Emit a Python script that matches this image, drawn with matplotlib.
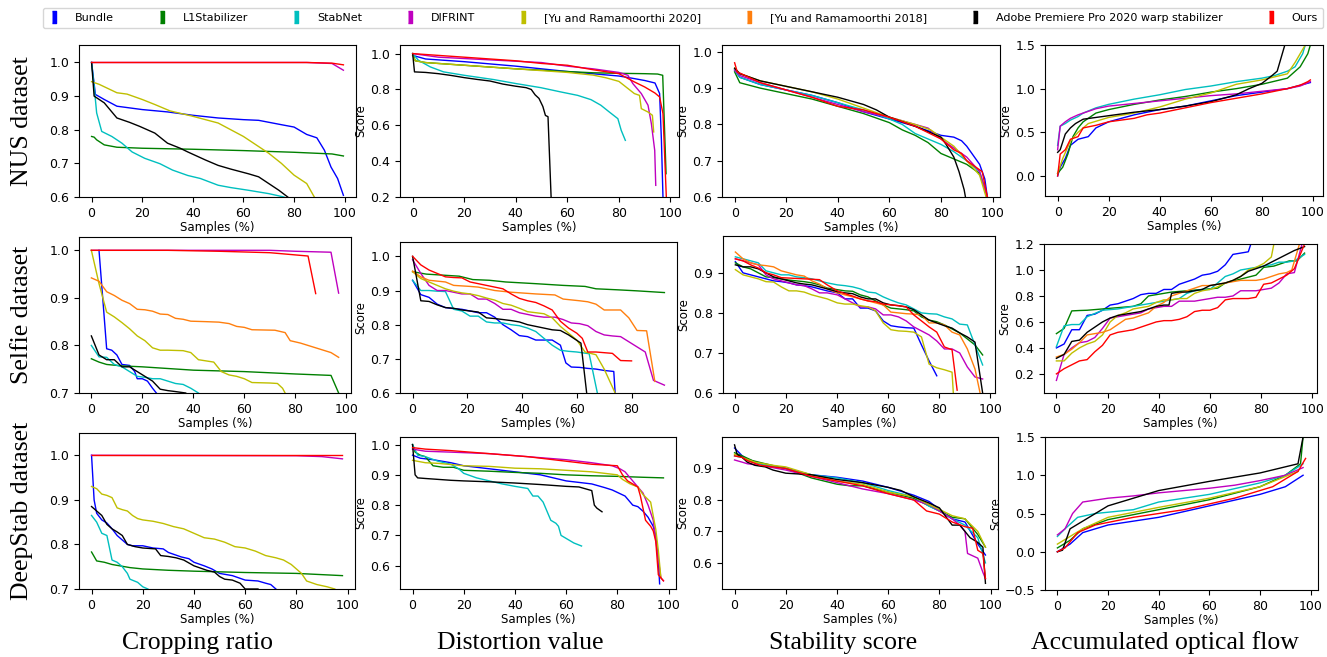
import matplotlib
matplotlib.use('Agg')
import matplotlib.pyplot as plt
from matplotlib.lines import Line2D

# methods / colours
methods = ['Bundle', 'L1Stabilizer', 'StabNet', 'DIFRINT', '[Yu and Ramamoorthi 2020]',
           '[Yu and Ramamoorthi 2018]', 'Adobe Premiere Pro 2020 warp stabilizer', 'Ours']
colors = ['b', 'g', 'c', 'm', 'y', '#ff7f0e', 'k', 'r']

row_labels = ['NUS dataset', 'Selfie dataset', 'DeepStab dataset']
col_labels = ['Cropping ratio', 'Distortion value', 'Stability score', 'Accumulated optical flow']

# ---------------- NUS ----------------
nus_crop = {
    'Bundle': ([0, 1.5, 5, 10, 20, 30, 40, 50, 60, 66, 75, 80, 85, 89, 92, 94.6, 97.2, 99.5],
               [1.0, 0.905, 0.89, 0.87, 0.86, 0.853, 0.843, 0.835, 0.83, 0.828, 0.815, 0.808, 0.786, 0.776, 0.739, 0.689, 0.655, 0.605]),
    'L1Stabilizer': ([0, 1, 2, 5, 10, 20, 40, 60, 80, 95, 99.5],
                     [0.78, 0.778, 0.77, 0.755, 0.748, 0.745, 0.742, 0.738, 0.733, 0.728, 0.722]),
    'StabNet': ([0, 1, 2, 4, 8, 12, 16, 21, 27, 32, 38, 43, 50, 55, 62, 70, 76],
                [1.0, 0.93, 0.85, 0.795, 0.78, 0.76, 0.734, 0.715, 0.699, 0.68, 0.664, 0.655, 0.635, 0.628, 0.62, 0.61, 0.6]),
    'DIFRINT': ([0, 50, 85, 95, 99.5], [1.0, 1.0, 1.0, 0.997, 0.977]),
    '[Yu and Ramamoorthi 2020]': ([0, 3, 10, 14, 20, 25, 31, 40, 50, 55, 60, 65, 70, 75, 80, 85, 88],
                                  [0.943, 0.935, 0.91, 0.906, 0.89, 0.875, 0.856, 0.84, 0.82, 0.8, 0.78, 0.755, 0.73, 0.7, 0.665, 0.64, 0.6]),
    'Adobe Premiere Pro 2020 warp stabilizer': ([0, 1, 5, 10, 15, 19, 25, 30, 35, 38, 45, 50, 55, 62, 66, 70, 74, 77.5],
                                                [1.0, 0.9, 0.88, 0.835, 0.822, 0.81, 0.79, 0.76, 0.745, 0.734, 0.71, 0.694, 0.683, 0.669, 0.66, 0.64, 0.62, 0.6]),
    'Ours': ([0, 50, 85, 95, 99.5], [1.0, 1.0, 1.0, 0.998, 0.993]),
}

nus_dist = {
    'Bundle': ([0, 5, 20, 40, 60, 80, 85, 90, 94, 95.8, 96.5, 97.1],
               [0.99, 0.97, 0.955, 0.93, 0.9, 0.875, 0.863, 0.85, 0.836, 0.777, 0.516, 0.2]),
    'L1Stabilizer': ([0, 1, 5, 20, 40, 60, 70, 80, 90, 95, 97, 98.3],
                     [1.0, 0.96, 0.95, 0.935, 0.915, 0.9, 0.893, 0.89, 0.888, 0.886, 0.879, 0.33]),
    'StabNet': ([0, 2.2, 6.8, 12, 20, 31.5, 40, 49.7, 57.5, 64, 69.2, 73, 76.3, 79.6, 80.9, 82.5],
                [1.0, 0.963, 0.926, 0.898, 0.879, 0.855, 0.833, 0.81, 0.786, 0.767, 0.743, 0.712, 0.674, 0.637, 0.572, 0.516]),
    'DIFRINT': ([0, 10, 30, 50, 60, 70, 80, 83.5, 85.4, 88.7, 91.3, 92.6, 93.9, 94.3],
                [1.0, 0.98, 0.965, 0.95, 0.93, 0.915, 0.895, 0.879, 0.833, 0.777, 0.712, 0.609, 0.46, 0.265]),
    '[Yu and Ramamoorthi 2020]': ([0, 1, 5, 20, 40, 60, 70, 75, 80, 86, 88, 88.7, 91.3, 93, 93.5],
                                  [0.99, 0.96, 0.95, 0.935, 0.915, 0.895, 0.88, 0.865, 0.845, 0.777, 0.767, 0.693, 0.674, 0.656, 0.563]),
    'Adobe Premiere Pro 2020 warp stabilizer': ([0, 0.7, 5, 10, 15, 20, 25, 30, 35, 40, 44, 46, 47.5, 49, 50.5, 51.5, 52.5, 53.7],
                                                [1.0, 0.898, 0.895, 0.888, 0.878, 0.866, 0.856, 0.847, 0.83, 0.818, 0.81, 0.8, 0.77, 0.75, 0.705, 0.655, 0.648, 0.2]),
    'Ours': ([0, 10, 20, 30, 40, 50, 60, 70, 80, 86, 90, 94, 95.8, 97.1, 98.4],
             [1.0, 0.99, 0.98, 0.97, 0.96, 0.945, 0.935, 0.91, 0.888, 0.842, 0.814, 0.78, 0.758, 0.665, 0.2]),
}

nus_stab = {
    'Bundle': ([0, 2, 10, 20, 30, 40, 50, 60, 70, 80, 85, 88, 90, 92, 95, 97, 98],
               [0.95, 0.93, 0.91, 0.895, 0.88, 0.86, 0.835, 0.815, 0.795, 0.77, 0.765, 0.755, 0.74, 0.72, 0.69, 0.65, 0.6]),
    'L1Stabilizer': ([0, 2, 10, 20, 30, 40, 50, 60, 65, 70, 75, 80, 85, 90, 95, 98],
                     [0.945, 0.915, 0.9, 0.885, 0.87, 0.85, 0.83, 0.805, 0.785, 0.77, 0.75, 0.72, 0.705, 0.69, 0.665, 0.6]),
    'StabNet': ([0, 2, 10, 20, 30, 40, 50, 60, 65, 70, 75, 80, 85, 90, 95, 98],
                [0.95, 0.93, 0.91, 0.895, 0.88, 0.86, 0.84, 0.815, 0.8, 0.775, 0.76, 0.745, 0.725, 0.7, 0.67, 0.6]),
    'DIFRINT': ([0, 2, 10, 20, 30, 40, 50, 60, 70, 75, 80, 85, 90, 95, 98],
                [0.95, 0.935, 0.915, 0.895, 0.875, 0.855, 0.835, 0.82, 0.8, 0.79, 0.76, 0.735, 0.71, 0.67, 0.6]),
    '[Yu and Ramamoorthi 2020]': ([0, 2, 10, 20, 30, 40, 50, 60, 70, 76, 80, 85, 90, 95, 97.5],
                                  [0.955, 0.94, 0.92, 0.905, 0.89, 0.87, 0.845, 0.82, 0.8, 0.785, 0.765, 0.74, 0.7, 0.66, 0.6]),
    'Adobe Premiere Pro 2020 warp stabilizer': ([0, 2, 10, 20, 30, 40, 50, 55, 60, 70, 80, 82, 85, 87, 89, 89.5],
                                                [0.955, 0.94, 0.92, 0.905, 0.89, 0.875, 0.855, 0.84, 0.82, 0.795, 0.765, 0.745, 0.71, 0.67, 0.62, 0.6]),
    'Ours': ([0, 1, 10, 20, 30, 40, 50, 60, 70, 80, 85, 88, 90, 93, 96, 98],
             [0.97, 0.945, 0.915, 0.895, 0.875, 0.85, 0.84, 0.82, 0.795, 0.76, 0.73, 0.72, 0.7, 0.685, 0.67, 0.6]),
}

nus_flow = {
    'Bundle': ([0, 1, 3, 5, 8, 12, 15, 20, 30, 40, 50, 60, 70, 80, 90, 99],
               [0.0, 0.1, 0.2, 0.35, 0.42, 0.45, 0.55, 0.62, 0.7, 0.76, 0.8, 0.86, 0.92, 0.96, 1.0, 1.07]),
    'L1Stabilizer': ([0, 2, 4, 6, 8, 10, 15, 20, 30, 40, 50, 60, 70, 80, 90, 95, 98, 99],
                     [0.03, 0.1, 0.25, 0.45, 0.55, 0.62, 0.72, 0.76, 0.82, 0.87, 0.91, 0.96, 1.0, 1.05, 1.12, 1.25, 1.4, 1.5]),
    'StabNet': ([0, 1, 3, 5, 8, 10, 15, 20, 30, 40, 50, 60, 70, 80, 85, 90, 93, 96, 97],
                [0.35, 0.57, 0.6, 0.64, 0.68, 0.72, 0.78, 0.82, 0.88, 0.93, 0.99, 1.03, 1.08, 1.12, 1.15, 1.2, 1.25, 1.4, 1.5]),
    'DIFRINT': ([0, 1, 3, 5, 8, 10, 15, 20, 30, 40, 50, 60, 70, 80, 90, 95, 99],
                [0.3, 0.57, 0.62, 0.66, 0.7, 0.72, 0.77, 0.8, 0.83, 0.86, 0.89, 0.92, 0.94, 0.97, 1.0, 1.03, 1.08]),
    '[Yu and Ramamoorthi 2020]': ([0, 2, 5, 8, 12, 20, 30, 40, 50, 60, 70, 80, 90, 93, 96, 97],
                                  [0.03, 0.2, 0.4, 0.5, 0.6, 0.67, 0.72, 0.79, 0.88, 0.95, 1.05, 1.1, 1.17, 1.3, 1.45, 1.5]),
    'Adobe Premiere Pro 2020 warp stabilizer': ([0, 1, 3, 5, 7, 10, 15, 20, 30, 40, 50, 60, 70, 75, 80, 84, 86, 87, 88, 89],
                                                [0.27, 0.3, 0.48, 0.55, 0.6, 0.65, 0.67, 0.69, 0.73, 0.76, 0.8, 0.85, 0.93, 1.0, 1.06, 1.15, 1.2, 1.3, 1.4, 1.5]),
    'Ours': ([0, 1, 3, 5, 8, 10, 15, 20, 30, 35, 40, 50, 60, 70, 80, 90, 95, 98, 99],
             [0.0, 0.25, 0.3, 0.42, 0.45, 0.55, 0.58, 0.62, 0.66, 0.7, 0.72, 0.78, 0.84, 0.89, 0.94, 1.0, 1.04, 1.08, 1.1]),
}

# ---------------- Selfie ----------------
selfie_crop = {
    'Bundle': ([3, 6, 8, 10, 12, 15, 17, 18, 20, 22, 24, 25.5],
               [1.0, 0.793, 0.79, 0.78, 0.76, 0.758, 0.745, 0.73, 0.73, 0.725, 0.71, 0.7]),
    'L1Stabilizer': ([0, 3, 6, 12, 20, 40, 60, 80, 94, 97],
                     [0.772, 0.765, 0.76, 0.757, 0.755, 0.748, 0.745, 0.74, 0.737, 0.7]),
    'StabNet': ([0, 3, 6, 9, 12, 15, 18, 21, 24, 27, 30, 33, 36, 39, 42],
                [0.8, 0.776, 0.775, 0.76, 0.755, 0.745, 0.735, 0.733, 0.73, 0.73, 0.725, 0.72, 0.718, 0.71, 0.7]),
    'DIFRINT': ([0, 70, 80, 94, 97], [1.0, 1.0, 0.998, 0.996, 0.91]),
    '[Yu and Ramamoorthi 2020]': ([0, 3, 6, 9, 12, 15, 18, 21, 24, 27, 30, 36, 39, 42, 48, 51, 54, 57, 60, 63, 70, 73, 75, 76],
                                  [1.0, 0.93, 0.87, 0.86, 0.848, 0.835, 0.82, 0.81, 0.795, 0.79, 0.79, 0.789, 0.785, 0.77, 0.765, 0.745, 0.738, 0.735, 0.73, 0.722, 0.721, 0.72, 0.71, 0.7]),
    '[Yu and Ramamoorthi 2018]': ([0, 3, 6, 9, 12, 15, 18, 21, 24, 27, 30, 33, 36, 39, 45, 50, 54, 57, 60, 63, 72, 76, 78, 82, 88, 94, 97],
                                  [0.942, 0.935, 0.913, 0.905, 0.895, 0.888, 0.876, 0.875, 0.872, 0.866, 0.865, 0.857, 0.855, 0.851, 0.85, 0.849, 0.846, 0.84, 0.838, 0.833, 0.832, 0.827, 0.81, 0.805, 0.795, 0.785, 0.775]),
    'Adobe Premiere Pro 2020 warp stabilizer': ([0, 3, 6, 9, 12, 15, 18, 21, 24, 27, 30, 33, 37],
                                                [0.82, 0.78, 0.77, 0.77, 0.755, 0.755, 0.745, 0.735, 0.725, 0.708, 0.705, 0.703, 0.7]),
    'Ours': ([0, 30, 50, 70, 85, 88], [1.0, 1.0, 0.998, 0.995, 0.988, 0.909]),
}

selfie_dist = {
    'Bundle': ([0, 3, 6, 9, 12, 15, 18, 21, 24, 27, 30, 33, 36, 39, 42, 45, 48, 51, 54, 56, 58, 61, 64, 67, 70, 73.5, 74],
               [0.93, 0.888, 0.88, 0.86, 0.85, 0.847, 0.845, 0.84, 0.835, 0.835, 0.822, 0.8, 0.785, 0.768, 0.765, 0.755, 0.755, 0.755, 0.74, 0.688, 0.676, 0.675, 0.672, 0.67, 0.666, 0.663, 0.6]),
    'L1Stabilizer': ([0, 5, 17, 22, 28, 34, 45, 55, 63, 67, 75, 82, 92],
                     [0.955, 0.948, 0.942, 0.932, 0.93, 0.925, 0.92, 0.915, 0.912, 0.905, 0.902, 0.899, 0.894]),
    'StabNet': ([0, 3, 6, 9, 12, 15, 18, 21, 24, 27, 30, 33, 36, 39, 42, 45, 48, 51, 54, 57, 60, 64.5, 67.5],
                [0.93, 0.9, 0.9, 0.898, 0.897, 0.845, 0.84, 0.825, 0.825, 0.808, 0.805, 0.805, 0.8, 0.797, 0.79, 0.78, 0.76, 0.74, 0.725, 0.722, 0.72, 0.715, 0.6]),
    'DIFRINT': ([0, 3, 6, 9, 12, 15, 18, 21, 24, 27, 30, 33, 36, 39, 42, 45, 48, 52, 55, 58, 61, 64, 67, 70, 73, 76, 79, 82, 85, 88, 92],
                [0.99, 0.95, 0.915, 0.9, 0.9, 0.895, 0.89, 0.89, 0.875, 0.875, 0.862, 0.845, 0.845, 0.835, 0.83, 0.825, 0.822, 0.822, 0.815, 0.805, 0.803, 0.797, 0.78, 0.77, 0.767, 0.765, 0.75, 0.735, 0.72, 0.637, 0.623]),
    '[Yu and Ramamoorthi 2020]': ([0, 3, 6, 9, 12, 15, 18, 21, 24, 27, 30, 33, 36, 39, 42, 45, 48, 51, 54, 57, 60, 63, 67, 70, 74],
                                  [0.955, 0.935, 0.925, 0.915, 0.905, 0.898, 0.893, 0.89, 0.885, 0.878, 0.872, 0.862, 0.857, 0.848, 0.838, 0.835, 0.832, 0.82, 0.795, 0.775, 0.755, 0.72, 0.712, 0.67, 0.6]),
    '[Yu and Ramamoorthi 2018]': ([0, 3, 6, 12, 15, 21, 24, 30, 36, 45, 52, 55, 61, 64, 67, 70, 76, 79, 82, 85.5, 88.5],
                                  [0.957, 0.94, 0.93, 0.925, 0.915, 0.912, 0.91, 0.9, 0.895, 0.89, 0.887, 0.875, 0.87, 0.867, 0.86, 0.843, 0.843, 0.82, 0.783, 0.782, 0.634]),
    'Adobe Premiere Pro 2020 warp stabilizer': ([0, 3, 6, 9, 12, 15, 18, 21, 24, 27, 30, 33, 36, 39, 42, 45, 48, 51, 54, 57, 61.5, 63.6],
                                                [1.0, 0.87, 0.868, 0.858, 0.85, 0.848, 0.843, 0.84, 0.837, 0.82, 0.818, 0.815, 0.812, 0.808, 0.8, 0.795, 0.79, 0.785, 0.783, 0.77, 0.746, 0.6]),
    'Ours': ([0, 3, 6, 9, 12, 15, 18, 21, 24, 27, 30, 33, 36, 39, 42, 45, 48, 51, 54, 57, 60, 62, 64, 67, 70, 73, 76, 80],
             [1.0, 0.975, 0.96, 0.95, 0.94, 0.938, 0.937, 0.925, 0.92, 0.915, 0.91, 0.905, 0.89, 0.877, 0.87, 0.865, 0.855, 0.843, 0.81, 0.79, 0.775, 0.76, 0.72, 0.72, 0.718, 0.716, 0.695, 0.694]),
}

selfie_stab = {
    'Bundle': ([0, 3, 6, 9, 12, 15, 18, 21, 24, 27, 30, 33, 36, 40, 43, 46, 49, 52, 55, 58, 61, 64, 67, 70, 73, 76, 79],
               [0.928, 0.9, 0.895, 0.89, 0.885, 0.88, 0.878, 0.875, 0.87, 0.868, 0.865, 0.86, 0.855, 0.85, 0.835, 0.835, 0.812, 0.812, 0.805, 0.78, 0.768, 0.765, 0.763, 0.762, 0.72, 0.68, 0.643]),
    'L1Stabilizer': ([0, 3, 6, 9, 12, 15, 18, 21, 24, 27, 30, 33, 36, 40, 43, 46, 49, 52, 55, 58, 61, 64, 67, 70, 73, 76, 79, 82, 85, 88, 91, 94, 97],
                     [0.925, 0.915, 0.91, 0.9, 0.89, 0.888, 0.885, 0.882, 0.88, 0.878, 0.875, 0.87, 0.862, 0.858, 0.855, 0.854, 0.845, 0.84, 0.83, 0.82, 0.812, 0.81, 0.808, 0.805, 0.79, 0.782, 0.778, 0.77, 0.76, 0.75, 0.735, 0.72, 0.695]),
    'StabNet': ([0, 3, 6, 9, 12, 15, 18, 21, 24, 27, 30, 33, 36, 40, 43, 46, 49, 52, 55, 58, 61, 64, 67, 70, 73, 76, 79, 82, 85, 88, 91, 94, 97],
                [0.94, 0.935, 0.93, 0.925, 0.905, 0.9, 0.895, 0.895, 0.89, 0.888, 0.885, 0.88, 0.875, 0.87, 0.868, 0.865, 0.86, 0.852, 0.85, 0.84, 0.832, 0.825, 0.82, 0.81, 0.8, 0.798, 0.797, 0.79, 0.785, 0.772, 0.77, 0.72, 0.67]),
    'DIFRINT': ([0, 3, 6, 9, 12, 15, 18, 21, 24, 27, 30, 33, 36, 40, 43, 46, 49, 52, 55, 58, 61, 64, 67, 70, 73, 76, 79, 82, 85, 88, 91, 94, 97],
                [0.935, 0.93, 0.925, 0.92, 0.895, 0.885, 0.88, 0.875, 0.87, 0.868, 0.86, 0.85, 0.85, 0.845, 0.835, 0.825, 0.815, 0.815, 0.81, 0.795, 0.795, 0.79, 0.78, 0.765, 0.755, 0.745, 0.73, 0.71, 0.71, 0.7, 0.665, 0.64, 0.635]),
    '[Yu and Ramamoorthi 2020]': ([0, 3, 6, 9, 12, 15, 18, 21, 24, 27, 30, 33, 36, 40, 43, 46, 49, 52, 55, 58, 61, 64, 67, 70, 73, 76, 79, 82, 85, 85.5],
                                  [0.908, 0.895, 0.89, 0.885, 0.878, 0.877, 0.865, 0.855, 0.855, 0.852, 0.845, 0.84, 0.835, 0.825, 0.822, 0.822, 0.818, 0.815, 0.805, 0.775, 0.758, 0.755, 0.754, 0.752, 0.74, 0.672, 0.663, 0.658, 0.652, 0.6]),
    '[Yu and Ramamoorthi 2018]': ([0, 3, 6, 9, 12, 15, 18, 21, 24, 27, 30, 33, 36, 40, 43, 46, 49, 52, 55, 58, 61, 64, 67, 70, 73, 76, 79, 82, 85, 88, 91, 94, 96],
                                  [0.952, 0.935, 0.925, 0.92, 0.918, 0.915, 0.905, 0.9, 0.895, 0.892, 0.88, 0.872, 0.86, 0.85, 0.845, 0.84, 0.835, 0.83, 0.825, 0.82, 0.802, 0.8, 0.798, 0.797, 0.795, 0.775, 0.775, 0.77, 0.752, 0.745, 0.71, 0.66, 0.6]),
    'Adobe Premiere Pro 2020 warp stabilizer': ([0, 3, 6, 9, 12, 15, 18, 21, 24, 27, 30, 33, 36, 40, 43, 46, 49, 52, 55, 58, 61, 64, 67, 70, 73, 76, 79, 82, 85, 88, 91, 94, 97],
                                                [0.92, 0.915, 0.915, 0.91, 0.9, 0.89, 0.885, 0.88, 0.875, 0.872, 0.87, 0.865, 0.86, 0.853, 0.85, 0.848, 0.84, 0.835, 0.835, 0.825, 0.82, 0.818, 0.815, 0.808, 0.795, 0.782, 0.775, 0.768, 0.762, 0.75, 0.74, 0.727, 0.6]),
    'Ours': ([0, 3, 6, 9, 12, 15, 18, 21, 24, 27, 30, 33, 36, 40, 43, 46, 49, 52, 55, 58, 61, 64, 67, 70, 73, 76, 79, 82, 85, 87],
             [0.935, 0.93, 0.92, 0.912, 0.9, 0.895, 0.888, 0.887, 0.886, 0.885, 0.884, 0.883, 0.87, 0.855, 0.848, 0.842, 0.835, 0.83, 0.828, 0.822, 0.82, 0.818, 0.815, 0.795, 0.78, 0.765, 0.752, 0.715, 0.708, 0.607]),
}

selfie_flow = {
    'Bundle': ([0, 3, 6, 9, 12, 15, 18, 21, 24, 27, 30, 33, 36, 39, 42, 45, 48, 51, 54, 57, 60, 63, 66, 69, 72, 75, 76],
               [0.4, 0.43, 0.54, 0.54, 0.65, 0.66, 0.69, 0.73, 0.74, 0.76, 0.78, 0.81, 0.82, 0.82, 0.85, 0.85, 0.89, 0.91, 0.93, 0.96, 0.97, 0.99, 1.04, 1.12, 1.13, 1.14, 1.2]),
    'L1Stabilizer': ([0, 3, 6, 9, 12, 18, 24, 30, 33, 36, 42, 45, 51, 57, 63, 66, 72, 78, 81, 85, 88, 91, 94, 97],
                     [0.51, 0.55, 0.685, 0.688, 0.69, 0.7, 0.71, 0.72, 0.74, 0.8, 0.82, 0.83, 0.84, 0.85, 0.86, 0.9, 0.93, 0.96, 1.02, 1.03, 1.05, 1.07, 1.07, 1.13]),
    'StabNet': ([0, 3, 6, 9, 12, 18, 24, 30, 36, 42, 48, 51, 54, 57, 60, 63, 66, 69, 72, 75, 78, 81, 84, 87, 90, 93, 97],
                [0.41, 0.57, 0.58, 0.58, 0.64, 0.69, 0.7, 0.72, 0.74, 0.76, 0.78, 0.82, 0.84, 0.85, 0.85, 0.9, 0.95, 0.97, 1.0, 1.01, 1.02, 1.03, 1.04, 1.06, 1.06, 1.07, 1.12]),
    'DIFRINT': ([0, 3, 6, 9, 12, 15, 18, 21, 24, 27, 30, 33, 36, 39, 42, 45, 48, 51, 54, 57, 60, 63, 66, 69, 72, 75, 78, 81, 84, 87, 90, 93, 96],
                [0.15, 0.35, 0.4, 0.44, 0.45, 0.48, 0.55, 0.63, 0.64, 0.65, 0.66, 0.67, 0.7, 0.71, 0.72, 0.72, 0.76, 0.76, 0.76, 0.77, 0.78, 0.79, 0.79, 0.8, 0.84, 0.84, 0.84, 0.85, 0.86, 0.9, 0.97, 0.98, 1.2]),
    '[Yu and Ramamoorthi 2020]': ([0, 3, 6, 9, 12, 15, 18, 21, 24, 27, 30, 33, 36, 39, 42, 45, 48, 51, 54, 57, 60, 63, 66, 69, 72, 75, 78, 81, 84, 85],
                                  [0.3, 0.3, 0.36, 0.4, 0.43, 0.45, 0.5, 0.6, 0.65, 0.67, 0.7, 0.71, 0.72, 0.75, 0.77, 0.77, 0.78, 0.78, 0.82, 0.84, 0.85, 0.87, 0.9, 0.92, 0.95, 1.0, 1.02, 1.05, 1.1, 1.2]),
    '[Yu and Ramamoorthi 2018]': ([0, 3, 6, 9, 12, 15, 18, 21, 24, 27, 30, 33, 36, 39, 42, 45, 48, 51, 54, 57, 60, 63, 66, 69, 72, 75, 78, 81, 84, 87, 90, 92, 95],
                                  [0.33, 0.35, 0.39, 0.44, 0.5, 0.51, 0.52, 0.54, 0.58, 0.62, 0.63, 0.65, 0.67, 0.72, 0.75, 0.8, 0.82, 0.84, 0.86, 0.88, 0.88, 0.89, 0.9, 0.91, 0.92, 0.92, 0.92, 0.93, 0.95, 0.97, 0.98, 1.0, 1.2]),
    'Adobe Premiere Pro 2020 warp stabilizer': ([0, 3, 6, 9, 12, 15, 18, 21, 24, 27, 30, 33, 36, 39, 42, 44, 45, 48, 51, 54, 57, 60, 63, 66, 69, 72, 75, 78, 81, 84, 87, 90, 93, 97],
                                                [0.32, 0.35, 0.45, 0.46, 0.52, 0.56, 0.6, 0.63, 0.65, 0.66, 0.67, 0.68, 0.7, 0.72, 0.73, 0.73, 0.82, 0.83, 0.83, 0.84, 0.85, 0.88, 0.89, 0.9, 0.92, 0.95, 0.99, 1.01, 1.03, 1.06, 1.09, 1.12, 1.15, 1.18]),
    'Ours': ([0, 3, 6, 9, 12, 15, 18, 21, 24, 27, 30, 33, 36, 39, 42, 45, 48, 51, 54, 57, 60, 63, 66, 69, 72, 75, 78, 81, 84, 87, 90, 93, 97],
             [0.2, 0.24, 0.27, 0.3, 0.31, 0.37, 0.42, 0.5, 0.52, 0.53, 0.54, 0.56, 0.58, 0.6, 0.61, 0.61, 0.62, 0.64, 0.68, 0.69, 0.69, 0.71, 0.77, 0.78, 0.78, 0.78, 0.79, 0.89, 0.9, 0.93, 0.96, 1.01, 1.2]),
}

# ---------------- DeepStab ----------------
deep_crop = {
    'Bundle': ([0, 1, 2, 4, 6, 8, 10, 12, 14, 16, 20, 24, 28, 30, 32, 35, 38, 40, 44, 47, 50, 55, 60, 65, 68, 70, 72],
               [1.0, 0.9, 0.87, 0.855, 0.848, 0.835, 0.82, 0.81, 0.8, 0.797, 0.797, 0.792, 0.79, 0.782, 0.778, 0.772, 0.768, 0.76, 0.752, 0.745, 0.735, 0.73, 0.72, 0.718, 0.713, 0.71, 0.7]),
    'L1Stabilizer': ([0, 2, 5, 8, 15, 20, 30, 40, 60, 80, 98],
                     [0.783, 0.763, 0.76, 0.755, 0.748, 0.745, 0.742, 0.74, 0.737, 0.735, 0.73]),
    'StabNet': ([0, 2, 4, 6, 8, 10, 12, 14, 15, 18, 20, 22],
                [0.865, 0.85, 0.825, 0.82, 0.765, 0.76, 0.75, 0.735, 0.722, 0.715, 0.705, 0.7]),
    'DIFRINT': ([0, 80, 90, 98], [1.0, 0.999, 0.997, 0.992]),
    '[Yu and Ramamoorthi 2020]': ([0, 2, 4, 6, 8, 10, 12, 14, 16, 18, 20, 24, 28, 32, 36, 40, 44, 48, 52, 56, 60, 64, 68, 72, 75, 78, 82, 84, 88, 92, 95],
                                  [0.93, 0.925, 0.913, 0.91, 0.905, 0.882, 0.878, 0.875, 0.865, 0.858, 0.855, 0.852, 0.847, 0.84, 0.835, 0.825, 0.815, 0.812, 0.805, 0.795, 0.792, 0.785, 0.775, 0.77, 0.765, 0.755, 0.735, 0.718, 0.71, 0.705, 0.7]),
    'Adobe Premiere Pro 2020 warp stabilizer': ([0, 2, 4, 6, 8, 10, 12, 14, 17, 20, 25, 27, 30, 33, 36, 40, 45, 48, 50, 52, 55, 58, 60, 65],
                                                [0.885, 0.875, 0.865, 0.845, 0.835, 0.828, 0.82, 0.8, 0.795, 0.792, 0.79, 0.775, 0.773, 0.77, 0.765, 0.752, 0.742, 0.738, 0.728, 0.722, 0.72, 0.713, 0.7, 0.7]),
    'Ours': ([0, 50, 98], [1.0, 1.0, 1.0]),
}

deep_dist = {
    'Bundle': ([0, 3, 8, 15, 20, 30, 40, 50, 55, 60, 65, 70, 75, 78, 80, 83, 86, 88, 90, 92, 94, 95, 96, 96.5],
               [0.965, 0.955, 0.95, 0.94, 0.93, 0.92, 0.91, 0.9, 0.89, 0.88, 0.875, 0.87, 0.858, 0.85, 0.842, 0.83, 0.8, 0.795, 0.78, 0.76, 0.73, 0.7, 0.62, 0.54]),
    'L1Stabilizer': ([0, 1, 3, 5, 8, 12, 16, 20, 30, 40, 50, 60, 70, 80, 90, 98],
                     [1.0, 0.975, 0.965, 0.96, 0.93, 0.925, 0.925, 0.915, 0.912, 0.908, 0.905, 0.9, 0.897, 0.895, 0.892, 0.89]),
    'StabNet': ([0, 2, 5, 10, 15, 18, 20, 25, 30, 35, 40, 45, 47, 49, 51, 53, 54, 56, 57, 58, 60, 63, 66],
                [1.0, 0.965, 0.96, 0.945, 0.935, 0.92, 0.905, 0.89, 0.88, 0.87, 0.862, 0.855, 0.83, 0.83, 0.81, 0.77, 0.75, 0.74, 0.73, 0.7, 0.69, 0.675, 0.665]),
    'DIFRINT': ([0, 5, 15, 30, 45, 60, 70, 78, 81, 83, 85, 88, 90, 92, 94, 96, 97, 98],
                [0.985, 0.978, 0.975, 0.97, 0.96, 0.95, 0.94, 0.93, 0.92, 0.91, 0.89, 0.86, 0.84, 0.8, 0.75, 0.62, 0.56, 0.55]),
    '[Yu and Ramamoorthi 2020]': ([0, 5, 10, 20, 30, 40, 50, 60, 70, 75, 80, 82, 85, 88, 90, 93, 95, 96, 97],
                                  [0.948, 0.94, 0.938, 0.93, 0.928, 0.922, 0.92, 0.915, 0.91, 0.905, 0.9, 0.885, 0.87, 0.86, 0.835, 0.81, 0.72, 0.65, 0.56]),
    'Adobe Premiere Pro 2020 warp stabilizer': ([0, 1, 2, 5, 10, 15, 20, 30, 40, 50, 60, 65, 70, 71, 72, 74],
                                                [1.0, 0.9, 0.89, 0.888, 0.885, 0.882, 0.88, 0.877, 0.873, 0.868, 0.862, 0.86, 0.848, 0.8, 0.79, 0.778]),
    'Ours': ([0, 5, 15, 30, 45, 60, 70, 80, 82, 84, 86, 88, 89, 90, 91, 93, 94, 95, 96, 98],
             [0.99, 0.985, 0.98, 0.97, 0.96, 0.945, 0.935, 0.93, 0.9, 0.88, 0.87, 0.86, 0.83, 0.79, 0.75, 0.73, 0.715, 0.68, 0.57, 0.55]),
}

deep_stab = {
    'Bundle': ([0, 3, 5, 10, 20, 30, 40, 50, 60, 70, 76, 80, 85, 90, 95, 98],
               [0.965, 0.94, 0.93, 0.915, 0.9, 0.88, 0.872, 0.86, 0.84, 0.815, 0.795, 0.77, 0.74, 0.73, 0.66, 0.625]),
    'L1Stabilizer': ([0, 3, 7, 12, 20, 30, 40, 45, 50, 60, 70, 75, 80, 85, 90, 95, 98],
                     [0.95, 0.94, 0.925, 0.915, 0.9, 0.87, 0.85, 0.845, 0.845, 0.825, 0.805, 0.785, 0.765, 0.745, 0.74, 0.69, 0.65]),
    'StabNet': ([0, 3, 5, 10, 20, 30, 40, 50, 60, 70, 76, 80, 85, 90, 95, 98],
                [0.94, 0.935, 0.925, 0.915, 0.9, 0.88, 0.87, 0.855, 0.83, 0.81, 0.78, 0.765, 0.74, 0.72, 0.68, 0.6]),
    'DIFRINT': ([0, 3, 5, 10, 20, 30, 40, 50, 60, 70, 76, 80, 85, 88, 90, 91, 95, 97, 98],
                [0.927, 0.92, 0.915, 0.91, 0.895, 0.875, 0.855, 0.835, 0.82, 0.8, 0.785, 0.765, 0.74, 0.72, 0.7, 0.63, 0.615, 0.57, 0.55]),
    '[Yu and Ramamoorthi 2020]': ([0, 3, 8, 15, 20, 30, 40, 50, 60, 70, 76, 80, 85, 90, 95, 98],
                                  [0.945, 0.935, 0.92, 0.91, 0.905, 0.88, 0.86, 0.85, 0.825, 0.81, 0.785, 0.77, 0.75, 0.74, 0.7, 0.65]),
    'Adobe Premiere Pro 2020 warp stabilizer': ([0, 1, 3, 5, 8, 12, 15, 20, 30, 40, 50, 60, 65, 70, 76, 80, 85, 88, 92, 95, 97, 98],
                                                [0.975, 0.945, 0.935, 0.92, 0.91, 0.905, 0.895, 0.885, 0.88, 0.865, 0.855, 0.84, 0.83, 0.81, 0.79, 0.775, 0.72, 0.72, 0.68, 0.665, 0.65, 0.535]),
    'Ours': ([0, 3, 5, 10, 20, 30, 40, 50, 60, 70, 75, 80, 85, 90, 93, 95, 97, 98],
             [0.94, 0.935, 0.925, 0.91, 0.9, 0.875, 0.86, 0.845, 0.82, 0.8, 0.765, 0.755, 0.73, 0.715, 0.71, 0.64, 0.63, 0.55]),
}

deep_flow = {
    'Bundle': ([0, 5, 10, 20, 40, 60, 80, 90, 97],
               [0.0, 0.1, 0.25, 0.35, 0.45, 0.6, 0.75, 0.85, 1.0]),
    'L1Stabilizer': ([0, 5, 10, 20, 40, 60, 80, 90, 96, 97],
                     [0.05, 0.15, 0.3, 0.42, 0.55, 0.68, 0.85, 1.0, 1.15, 1.5]),
    'StabNet': ([0, 3, 8, 15, 30, 40, 60, 80, 90, 97],
                [0.2, 0.3, 0.45, 0.5, 0.55, 0.65, 0.75, 0.9, 1.0, 1.15]),
    'DIFRINT': ([0, 3, 6, 10, 20, 30, 40, 50, 60, 70, 80, 90, 97],
                [0.22, 0.3, 0.5, 0.65, 0.7, 0.73, 0.77, 0.8, 0.83, 0.87, 0.93, 1.0, 1.1]),
    '[Yu and Ramamoorthi 2020]': ([0, 5, 10, 20, 40, 60, 80, 95],
                                  [0.1, 0.2, 0.3, 0.45, 0.58, 0.7, 0.85, 1.05]),
    'Adobe Premiere Pro 2020 warp stabilizer': ([0, 2, 5, 20, 40, 60, 80, 95, 97],
                                                [0.0, 0.02, 0.3, 0.6, 0.8, 0.92, 1.03, 1.15, 1.5]),
    'Ours': ([0, 3, 8, 15, 30, 50, 70, 85, 95, 98],
             [0.0, 0.05, 0.25, 0.35, 0.45, 0.55, 0.7, 0.85, 1.05, 1.22]),
}

panels = [[nus_crop, nus_dist, nus_stab, nus_flow],
          [selfie_crop, selfie_dist, selfie_stab, selfie_flow],
          [deep_crop, deep_dist, deep_stab, deep_flow]]

ylims = [[(0.6, 1.052), (0.2, 1.048), (0.6, 1.019), (-0.23, 1.5)],
         [(0.7, 1.028), (0.6, 1.042), (0.6, 0.992), (0.053, 1.2)],
         [(0.7, 1.05), (0.523, 1.025), (0.517, 1.0), (-0.5, 1.5)]]

yticks = [[[0.6, 0.7, 0.8, 0.9, 1.0], [0.2, 0.4, 0.6, 0.8, 1.0], [0.6, 0.7, 0.8, 0.9, 1.0], [0.0, 0.5, 1.0, 1.5]],
          [[0.7, 0.8, 0.9, 1.0], [0.6, 0.7, 0.8, 0.9, 1.0], [0.6, 0.7, 0.8, 0.9], [0.2, 0.4, 0.6, 0.8, 1.0, 1.2]],
          [[0.7, 0.8, 0.9, 1.0], [0.6, 0.7, 0.8, 0.9, 1.0], [0.6, 0.7, 0.8, 0.9], [-0.5, 0.0, 0.5, 1.0, 1.5]]]

# axes boxes in pixels: left, right, top, bottom
boxes = [[(79, 356, 45, 197), (400, 679, 45, 197), (722, 1000, 45, 197), (1045, 1323, 45, 196)],
         [(79, 351, 237, 393), (400, 677, 242, 393), (723, 995, 236, 393), (1044, 1317, 244, 393)],
         [(79, 355, 433, 589), (400, 676, 437, 589), (722, 998, 437, 589), (1045, 1318, 437, 590)]]

W, H = 1327, 657
fig = plt.figure(figsize=(W / 100, H / 100), dpi=100)

for r in range(3):
    for c in range(4):
        L, R, T, B = boxes[r][c]
        ax = fig.add_axes([L / W, 1 - B / H, (R - L) / W, (B - T) / H])
        data = panels[r][c]
        for m, col in zip(methods, colors):
            if m in data:
                xs, ys = data[m]
                ax.plot(xs, ys, color=col, lw=1.0)
        ax.set_ylim(*ylims[r][c])
        ax.set_yticks(yticks[r][c])
        ax.set_xticks([0, 20, 40, 60, 80, 100])
        ax.tick_params(labelsize=9)
        ax.set_xlabel('Samples (%)', fontsize=8.5, labelpad=1)
        if c > 0:
            ax.set_ylabel('Score', fontsize=8.5, labelpad=2)
        ax.autoscale(axis='x')
        ax.margins(x=0.05)

# row labels
row_y = [121, 315, 511]
for lab, y in zip(row_labels, row_y):
    fig.text(22 / W, 1 - y / H, lab, rotation=90, ha='center', va='center',
             fontsize=18.5, family='Liberation Serif')

col_x = [198, 520, 843, 1165]
for lab, x in zip(col_labels, col_x):
    fig.text(x / W, 1 - 643 / H, lab, ha='center', va='center',
             fontsize=18.5, family='Liberation Serif')

# legend
bar = [(-0.33, -1), (0.33, -1), (0.33, 1), (-0.33, 1)]
handles = [Line2D([], [], ls='none', marker=bar, markersize=9, color=col) for col in colors]
fig.legend(handles, methods, loc='center', bbox_to_anchor=(683 / W, 1 - 18 / H), ncol=8,
           fontsize=8, handlelength=1.0, handletextpad=1.4, columnspacing=3.8,
           borderpad=0.45, frameon=True)

fig.savefig('out.png', dpi=100)
